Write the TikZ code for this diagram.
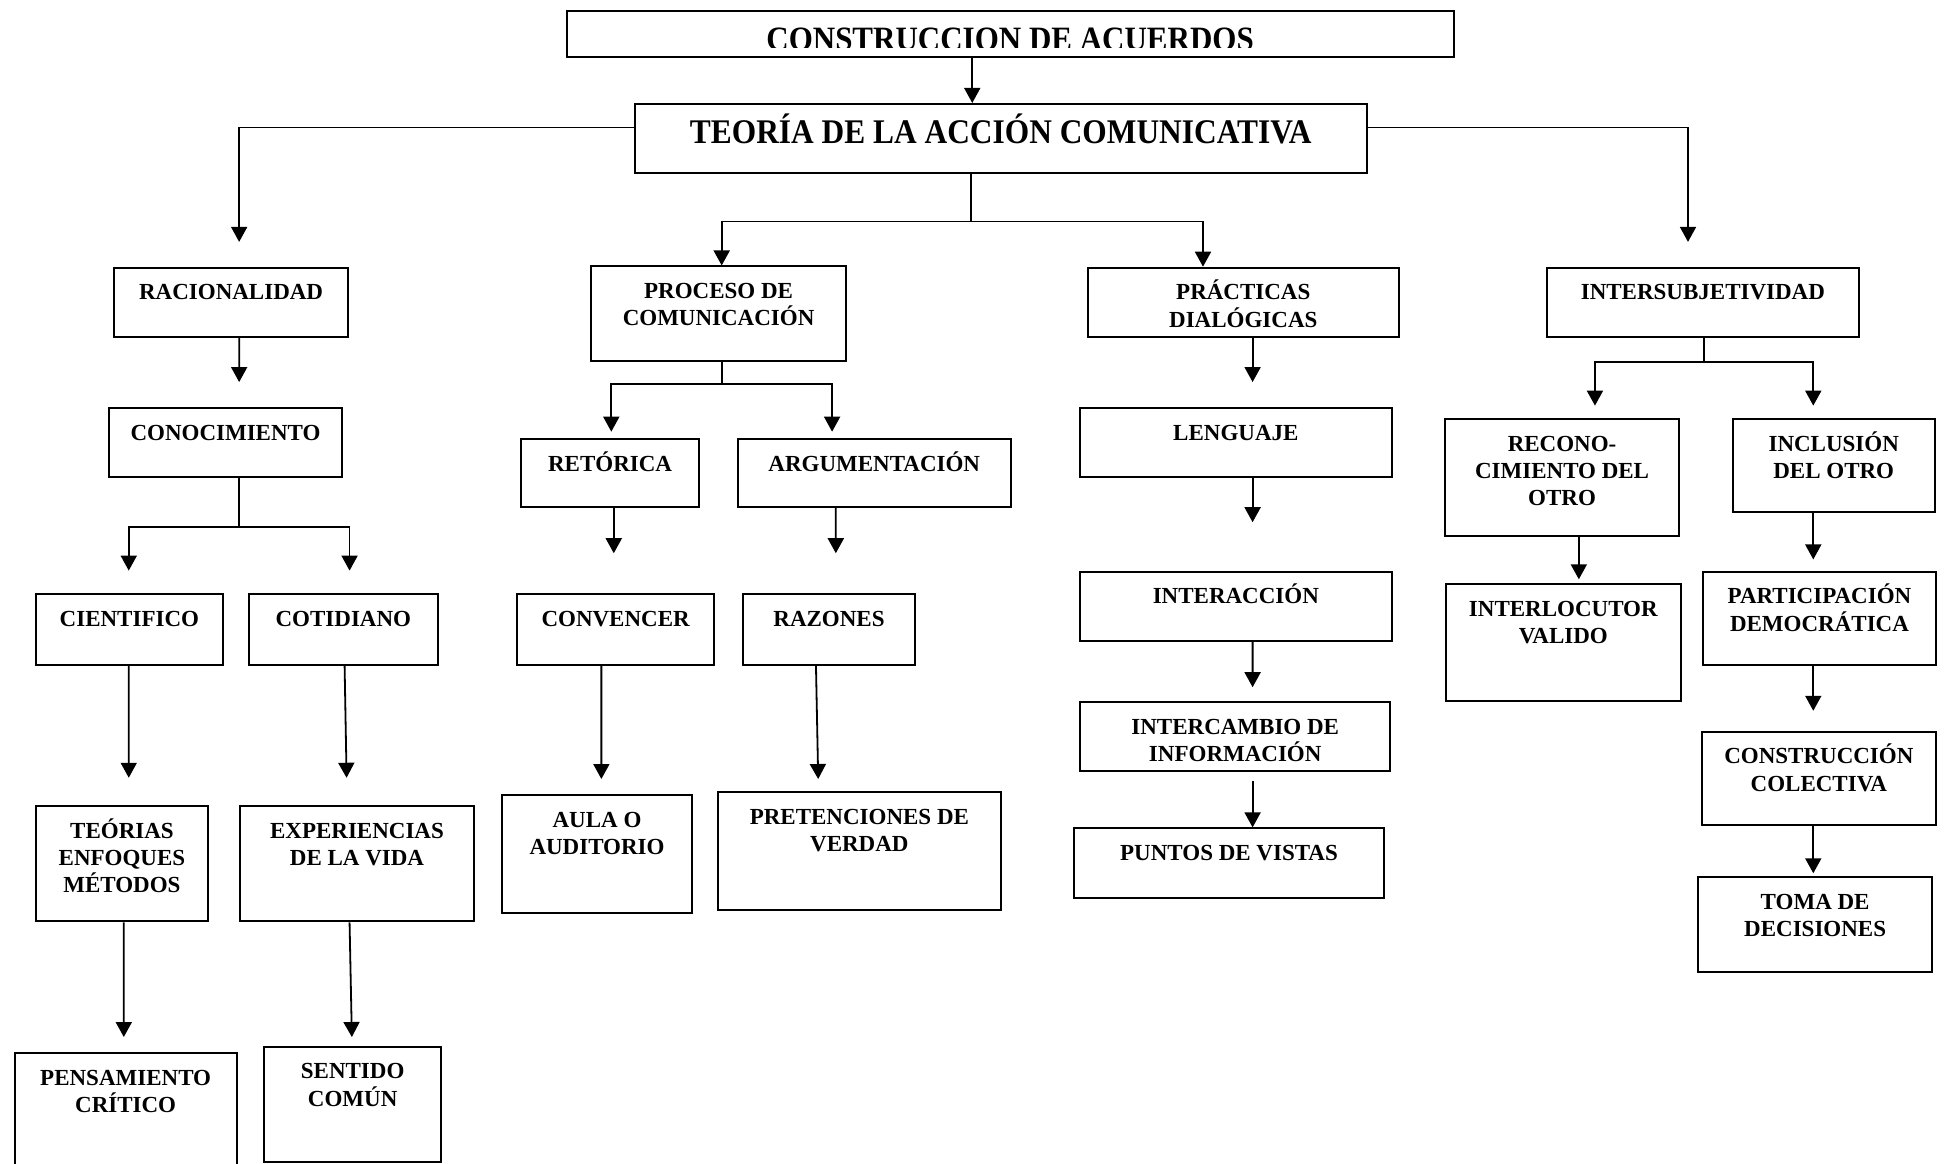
\documentclass[tikz,border=0pt]{standalone}
\usepackage{fontspec}
\setmainfont{Liberation Serif}
\usepackage{graphicx}
\usetikzlibrary{arrows.meta}

\newlength{\pxu}
\setlength{\pxu}{0.6202pt}
\newcommand{\cajafont}{\fontsize{11.5pt}{13.6pt}\selectfont\bfseries}
\newcommand{\titfont}{\fontsize{15.7pt}{18pt}\selectfont\bfseries}
\newcommand{\supfont}{\fontsize{15.5pt}{18pt}\selectfont\bfseries}
\newcommand{\txtcaja}[3]{\parbox[c][#2\pxu][t]{#1\pxu}{\centering\rule{0pt}{26\pxu}#3}}

\begin{document}
\begin{tikzpicture}[
    x=0.6202pt, y=-0.6202pt,
    caja/.style={draw, line width=1pt, inner sep=0pt, anchor=north west, font=\cajafont},
    flecha/.style={-{Triangle[length=7.5pt,width=8pt]}, line width=0.9pt},
    dx/.style={xshift=(#1)*\pxu},
    dy/.style={yshift=-(#1)*\pxu},
    gap/.style={shorten >=#1*\pxu},
    gapi/.style={shorten <=#1*\pxu}
  ]
  \useasboundingbox (0,0) rectangle (1568,938);

  \node[caja] (top) at (456,8) {\txtcaja{715}{37}{}};
  \begin{scope}
    \clip ([dy=-2]top.north west) rectangle ([dy=-8.5]top.south east);
    \node[anchor=base, inner sep=0pt, font=\supfont] (titulo) at ([dy=33]top.north)
      {\scalebox{1}[1.1]{CONSTRUCCION DE ACUERDOS}};
  \end{scope}
  \node[caja, font=\titfont] (teoria) at (511,83)
    {\parbox[c][56\pxu][t]{590\pxu}{\centering\rule{0pt}{32\pxu}\scalebox{1}[1.1]{TEORÍA DE LA ACCIÓN COMUNICATIVA}}};

  \node[caja] (rac) at (91,215) {\txtcaja{189}{56}{RACIONALIDAD}};
  \node[caja] (proc) at (476,214) {\txtcaja{205}{76}{PROCESO DE\\COMUNICACIÓN}};
  \node[caja] (prac) at (876,215) {\txtcaja{251}{56}{PRÁCTICAS\\DIALÓGICAS}};
  \node[caja] (inter) at (1246,215) {\txtcaja{252}{56}{INTERSUBJETIVIDAD}};

  \node[caja] (conoc) at (87,328) {\txtcaja{188}{56}{CONOCIMIENTO}};
  \node[caja] (cient) at (28,478) {\txtcaja{151}{57}{CIENTIFICO}};
  \node[caja] (cotid) at (200,478) {\txtcaja{152}{57}{COTIDIANO}};
  \node[caja] (teor) at (28,649) {\txtcaja{139}{93}{TEÓRIAS\\ENFOQUES\\MÉTODOS}};
  \node[caja] (exper) at (193,649) {\txtcaja{188}{93}{EXPERIENCIAS\\DE LA VIDA}};
  \node[caja] (pens) at (11,848) {\txtcaja{179}{97}{PENSAMIENTO\\CRÍTICO}};
  \node[caja] (sent) at (212,843) {\txtcaja{143}{93}{SENTIDO\\COMÚN}};

  \node[caja] (ret) at (419,353) {\txtcaja{144}{55}{RETÓRICA}};
  \node[caja] (arg) at (594,353) {\txtcaja{220}{55}{ARGUMENTACIÓN}};
  \node[caja] (conv) at (416,478) {\txtcaja{159}{57}{CONVENCER}};
  \node[caja] (raz) at (598,478) {\txtcaja{139}{57}{RAZONES}};
  \node[caja] (aula) at (404,640) {\txtcaja{153}{95}{AULA O\\AUDITORIO}};
  \node[caja] (pret) at (578,638) {\txtcaja{228}{95}{PRETENCIONES DE\\VERDAD}};

  \node[caja] (leng) at (870,328) {\txtcaja{251}{56}{LENGUAJE}};
  \node[caja] (intera) at (870,460) {\txtcaja{251}{56}{INTERACCIÓN}};
  \node[caja] (interc) at (870,565) {\txtcaja{250}{56}{INTERCAMBIO DE\\INFORMACIÓN}};
  \node[caja] (puntos) at (865,667) {\txtcaja{250}{56}{PUNTOS DE VISTAS}};

  \node[caja] (recon) at (1164,337) {\txtcaja{189}{94}{RECONO-\\CIMIENTO DEL\\OTRO}};
  \node[caja] (incl) at (1396,337) {\txtcaja{163}{75}{INCLUSIÓN\\DEL OTRO}};
  \node[caja] (interl) at (1165,470) {\txtcaja{189}{94}{INTERLOCUTOR\\VALIDO}};
  \node[caja] (part) at (1372,460) {\txtcaja{188}{75}{PARTICIPACIÓN\\DEMOCRÁTICA}};
  \node[caja] (constr) at (1371,589) {\txtcaja{189}{75}{CONSTRUCCIÓN\\COLECTIVA}};
  \node[caja] (toma) at (1368,706) {\txtcaja{189}{77}{TOMA DE\\DECISIONES}};

  \draw[flecha] ([dx=-30.5]top.south) -- ([dx=-23]teoria.north);
  \draw[flecha, gap=20] ([dy=-9]teoria.west) -| ([dx=6.5]rac.north);
  \draw[flecha, gap=20] ([dy=-9]teoria.east) -| ([dx=-12]inter.north);
  \draw[flecha] ([dx=-24]teoria.south) -- ++(0,38) -| ([dx=2.5]proc.north);
  \draw[flecha] ([dx=-24]teoria.south) -- ++(0,38) -| ([dx=-32.5]prac.north);

  \draw[flecha, gap=20] ([dx=6.5]rac.south) -- ([dx=11]conoc.north);
  \draw[flecha, gap=18] ([dx=11]conoc.south) -- ++(0,39) -| ([dx=-0.5]cient.north);
  \draw[flecha, gap=18] ([dx=11]conoc.south) -- ++(0,39) -| ([dx=5]cotid.north);
  \draw[flecha, gap=22] ([dx=-0.5]cient.south) -- ([dx=5.5]teor.north);
  \draw[flecha, gap=22] ([dx=1]cotid.south) -- ([dx=-8]exper.north);
  \draw[flecha, gap=12] ([dx=1.5]teor.south) -- ([dx=-1.5]pens.north);
  \draw[flecha, gap=7] ([dx=-6]exper.south) -- ([dx=-0.5]sent.north);

  \draw[flecha, gap=5] ([dx=2.5]proc.south) -- ++(0,18) -| ([dx=1]ret.north);
  \draw[flecha, gap=5] ([dx=2.5]proc.south) -- ++(0,18) -| ([dx=-34]arg.north);
  \draw[flecha, gap=32] ([dx=3]ret.south) -- ([dx=-1.5]conv.north);
  \draw[flecha, gap=32] ([dx=-31]arg.south) -- ([dx=5.5]raz.north);
  \draw[flecha, gap=12] ([dx=-11.5]conv.south) -- ([dx=3.5]aula.north);
  \draw[flecha, gap=10] ([dx=-10.5]raz.south) -- ([dx=-33]pret.north);

  \draw[flecha, gap=20] ([dx=7.5]prac.south) -- ([dx=13.5]leng.north);
  \draw[flecha, gap=39] ([dx=13.5]leng.south) -- ([dx=13.5]intera.north);
  \draw[flecha, gap=11] ([dx=13.5]intera.south) -- ([dx=14]interc.north);
  \draw[flecha, gapi=7] ([dx=14]interc.south) -- ([dx=19]puntos.north);

  \draw[flecha, gap=10] ([dx=1]inter.south) -- ++(0,19) -| ([dx=26.5]recon.north);
  \draw[flecha, gap=10] ([dx=1]inter.south) -- ++(0,19) -| ([dx=-16.5]incl.north);
  \draw[flecha, gap=3] ([dx=13.5]recon.south) -- ([dx=12.5]interl.north);
  \draw[flecha, gap=9] ([dx=-16.5]incl.south) -- ([dx=-5]part.north);
  \draw[flecha, gap=16] ([dx=-5]part.south) -- ([dx=-4.5]constr.north);
  \draw[flecha, gap=2] ([dx=-4.5]constr.south) -- ([dx=-1.5]toma.north);
\end{tikzpicture}
\end{document}
